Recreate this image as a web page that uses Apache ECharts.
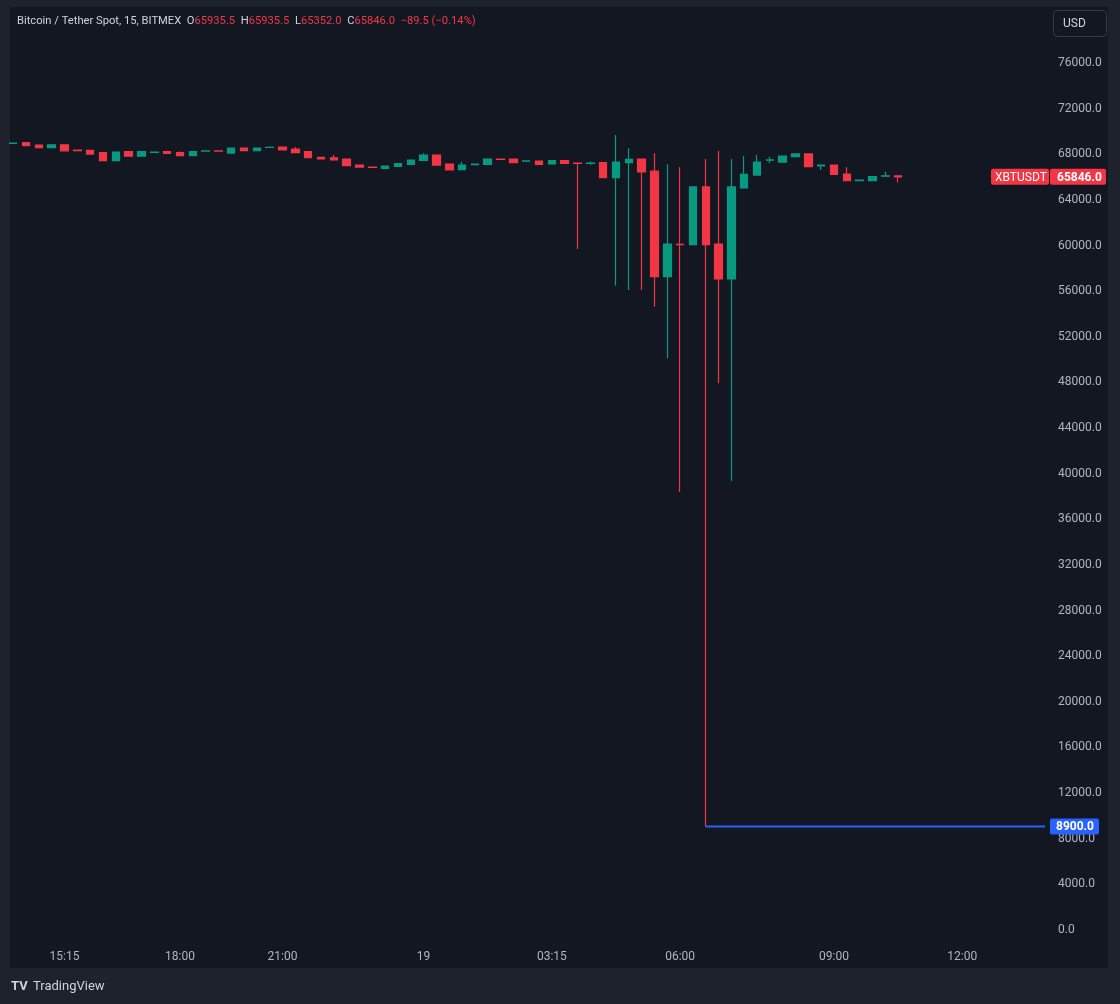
<!DOCTYPE html>
<html><head><meta charset="utf-8">
<script src="https://cdn.jsdelivr.net/npm/echarts@6/dist/echarts.min.js"></script>
<style>html,body{margin:0;padding:0;background:#1e222d}#c{width:1120px;height:1004px}</style>
</head><body><div id="c"></div>
<script>
// ---- data ----
const opens  = [68780,68840,68630,68400,68660,68180,68170,67965,67265,68050,67670,67990,68050,67965,67700,68100,68120,67930,68370,68140,68420,68460,68280,68050,67550,67520,67410,66880,66690,66590,66770,66940,67290,67760,66970,66470,66910,66940,67390,67410,67220,67230,66970,67260,67040,67020,67090,65770,67090,67410,66340,57090,59920,59900,64960,59960,56890,64870,66000,67310,67140,67610,67850,66800,66880,66090,65520,65510,65900,65935.5];
const closes = [68800,68580,68400,68660,68130,68150,67845,67265,68020,67670,68050,68010,67910,67700,68050,68120,68100,68370,68140,68370,68440,68200,67965,67520,67410,67340,66820,66700,66670,66790,67000,67320,67760,66880,66450,66880,66970,67410,67370,67090,67240,66940,67260,67030,67020,67050,65770,67140,67380,66270,57090,59960,59900,64960,59900,56890,64960,66060,67140,67330,67670,67850,66740,66880,66070,65510,65560,65860,65935.5,65846];
const lows   = [68760,68560,68380,68390,68120,68140,67830,67250,67250,67660,67660,67980,67900,67690,67690,68090,68090,67920,68130,68130,68410,68190,67950,67500,67400,67330,66800,66680,66660,66580,66760,66930,67280,66870,66440,66460,66900,66930,67360,67080,67210,66930,66960,67020,59520,66900,65760,56300,55930,55930,54460,49940,38250,59900,8900,47750,39180,64860,65990,67030,67130,67600,66730,66450,66060,65500,65510,65500,65890,65352];
const highs  = [68820,68850,68640,68680,68670,68190,68180,67980,68030,68060,68060,68020,68060,68060,68060,68130,68130,68380,68380,68380,68450,68470,68460,68060,67560,67760,67420,66900,66700,66800,67010,67330,67910,67770,66980,67170,66980,67420,67400,67420,67250,67240,67270,67270,67050,67200,67100,69520,68350,67420,67910,66940,66680,64960,67410,68140,67410,67670,67760,67610,67680,67860,67860,66890,66890,66680,65570,65870,66300,65935.5];
const timeTickIndex  = [4, 13, 21, 32, 42, 52, 64, 74];
const timeTickLabels = ['15:15', '18:00', '21:00', '19', '03:15', '06:00', '09:00', '12:00'];
const priceMin = 0, priceMax = 76000, priceStep = 4000;
const lowLevel = 8900, lowLevelIndex = 54;
const symbolTitle = 'Bitcoin / Tether Spot, 15, BITMEX';
const tickerName = 'XBTUSDT';
const currencyName = 'USD';

// ---- chart ----
const UP = '#089981', DOWN = '#f23645', TXT = '#b2b5be', FONT = 'Roboto';
const n = opens.length;
const last = n - 1;
const candles = opens.map((o, i) => [i, o, closes[i], lows[i], highs[i]]);
const xMin = -0.25, xMax = 80.45;
const chg = closes[last] - closes[last - 1];
const pct = chg / closes[last - 1] * 100;
const fmt = v => v.toFixed(1);
const minus = v => (v < 0 ? '\u2212' : '');

const chart = echarts.init(document.getElementById('c'), null, {renderer: 'canvas'});
const option = {
  backgroundColor: '#1e222d',
  animation: false,
  textStyle: {fontFamily: FONT},
  grid: {left: 10, right: 75, top: 61, bottom: 76},
  xAxis: {
    type: 'value', min: xMin, max: xMax,
    axisLine: {show: false}, axisTick: {show: false}, splitLine: {show: false},
    axisLabel: {
      customValues: timeTickIndex,
      formatter: v => { const k = timeTickIndex.indexOf(Math.round(v)); return k >= 0 ? timeTickLabels[k] : ''; },
      color: TXT, fontSize: 12, fontFamily: FONT, margin: 23
    }
  },
  yAxis: {
    type: 'value', position: 'right', min: priceMin, max: priceMax, interval: priceStep,
    axisLine: {show: false}, axisTick: {show: false}, splitLine: {show: false},
    axisLabel: {formatter: v => fmt(v), color: TXT, fontSize: 12, fontFamily: FONT, margin: 13, align: 'left',
      verticalAlign: 'top', lineHeight: 4}
  },
  series: [
    {
      type: 'candlestick', name: tickerName, data: candles, barWidth: 8,
      itemStyle: {color: UP, color0: DOWN, borderColor: UP, borderColor0: DOWN, borderWidth: 1.2}
    },
    {
      type: 'line', data: [[lowLevelIndex, lowLevel], [xMax, lowLevel]], symbol: 'none',
      lineStyle: {color: '#2962ff', width: 2}, silent: true
    }
  ]
};
chart.setOption(option);

const yLast = chart.convertToPixel({yAxisIndex: 0}, closes[last]);
const yLow = chart.convertToPixel({yAxisIndex: 0}, lowLevel);
const head = `${symbolTitle}  O{r|${fmt(opens[last])}}  H{r|${fmt(highs[last])}}  L{r|${fmt(lows[last])}}  C{r|${fmt(closes[last])}}  {r|${minus(chg)}${Math.abs(chg).toFixed(1)} (${minus(pct)}${Math.abs(pct).toFixed(2)}%)}`;
chart.setOption({
  graphic: [
    {type: 'rect', z: -10, silent: true, shape: {x: 10, y: 7, width: 1098, height: 961}, style: {fill: '#131722'}},
    {type: 'text', z: 10, style: {x: 17, y: 21, text: head, fill: '#d1d4dc', font: '11.2px Roboto', verticalAlign: 'middle',
      rich: {r: {fill: DOWN, color: DOWN, fontSize: 11.2, fontFamily: FONT}}}},
    {type: 'rect', z: 10, shape: {x: 1053.5, y: 10.5, width: 53, height: 26, r: 4}, style: {fill: '#131722', stroke: '#363a45', lineWidth: 1}},
    {type: 'text', z: 11, style: {x: 1063, y: 23.5, text: currencyName, fill: '#d1d4dc', font: '12px Roboto', verticalAlign: 'middle'}},
    {type: 'rect', z: 10, shape: {x: 991, y: yLast - 8, width: 58, height: 16, r: 2}, style: {fill: DOWN}},
    {type: 'text', z: 11, style: {x: 995, y: yLast + 1, text: tickerName, fill: '#ffffff', font: '12px Roboto', verticalAlign: 'middle'}},
    {type: 'rect', z: 10, shape: {x: 1050, y: yLast - 8, width: 56, height: 16, r: 2}, style: {fill: DOWN}},
    {type: 'text', z: 11, style: {x: 1057, y: yLast + 1, text: fmt(closes[last]), fill: '#ffffff', font: 'bold 12px Roboto', verticalAlign: 'middle'}},
    {type: 'rect', z: 10, shape: {x: 1050, y: yLow - 8, width: 49, height: 16, r: 2}, style: {fill: '#2962ff'}},
    {type: 'text', z: 11, style: {x: 1056, y: yLow + 1, text: fmt(lowLevel), fill: '#ffffff', font: 'bold 12px Roboto', verticalAlign: 'middle'}},
    {type: 'text', z: 10, style: {x: 11, y: 987, text: 'TV', fill: '#d1d4dc', font: 'bold 13px Roboto', verticalAlign: 'middle'}},
    {type: 'text', z: 10, style: {x: 33, y: 987, text: 'TradingView', fill: '#d1d4dc', font: '13px Roboto', verticalAlign: 'middle'}}
  ]
}, {replaceMerge: ['graphic']});
</script>
</body></html>
